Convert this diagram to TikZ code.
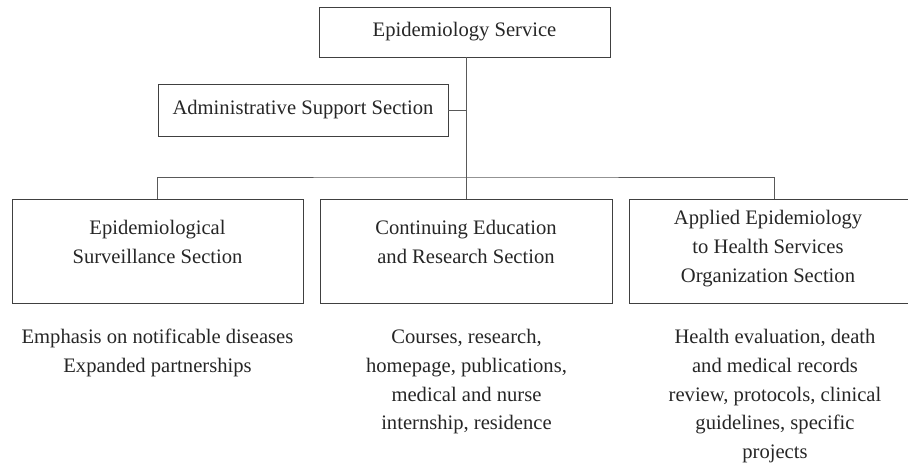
\documentclass[tikz,border=0pt]{standalone}
\usepackage{fontspec}
\setmainfont{Liberation Serif}
\begin{document}
\begin{tikzpicture}[x=1pt,y=-1pt,
  box/.style={draw=black!75,line width=0.9pt,inner sep=0pt},
  lbl/.style={font=\fontsize{20.6}{28.8}\selectfont,text=black!85,align=center,inner sep=0pt},
  link/.style={draw=black!65,line width=0.9pt}]
\useasboundingbox (0,0) rectangle (908,465);
% boxes
\node[box,minimum width=291pt,minimum height=50pt] (srv) at (464.5,32) {};
\node[lbl] at (srv) {Epidemiology Service};
\node[box,minimum width=290pt,minimum height=52pt] (adm) at (303,110) {};
\node[lbl] at (adm) {Administrative Support Section};
\node[box,minimum width=291pt,minimum height=104pt] (sur) at (157.5,251) {};
\node[box,minimum width=292pt,minimum height=104pt] (edu) at (466,251) {};
\node[box,minimum width=280pt,minimum height=104pt] (app) at (769,251) {};
\node[lbl,anchor=north] (surT) at (157.5,220) {Epidemiological\\Surveillance Section};
\node[lbl,anchor=north] (eduT) at (466,220) {Continuing Education\\and Research Section};
\node[lbl,anchor=north] (appT) at (768,210) {Applied Epidemiology\\to Health Services\\Organization Section};
% descriptions
\node[lbl,anchor=north] (surD) at (157.5,329) {Emphasis on notificable diseases\\Expanded partnerships};
\node[lbl,anchor=north] (eduD) at (466.5,329) {Courses, research,\\homepage, publications,\\medical and nurse\\internship, residence};
\node[lbl,anchor=north] (appD) at (775,329) {Health evaluation, death\\and medical records\\review, protocols, clinical\\guidelines, specific\\projects};
% connectors
\coordinate (bar) at (466,177);
\draw[link] (srv.south -| bar) -- (edu.north);
\draw[link] (adm.east) -- (adm.east -| bar);
\draw[link] (sur.north -| 157,0) |- (bar) -| (app.north -| 774,0);
\end{tikzpicture}
\end{document}
